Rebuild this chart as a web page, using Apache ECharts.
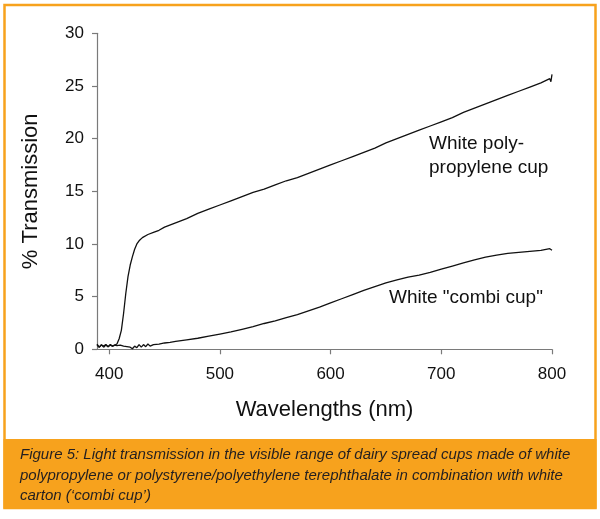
<!DOCTYPE html>
<html><head><meta charset="utf-8">
<script src="https://cdn.jsdelivr.net/npm/echarts@6/dist/echarts.min.js"></script>
<style>html,body{margin:0;padding:0;background:#fff}#c{width:600px;height:519px}</style>
</head><body><div id="c"></div>
<script>
// White polypropylene cup: [wavelength nm, % transmission]
const ppCup = [
[389,0.4],[391,0.2],[393,0.4],[395,0.3],[397,0.45],[399,0.25],[401,0.4],[403,0.3],[405,0.4],[407,0.5],
[409,1.0],[411,1.8],[413,3.4],[415,5.3],[417,6.9],[419,8.0],[421,8.8],[423,9.5],[425,10.0],[427,10.3],
[430,10.6],[435,10.9],[440,11.1],[445,11.3],[450,11.6],[460,12.0],[470,12.4],[480,12.9],[490,13.3],[500,13.7],
[510,14.1],[520,14.5],[530,14.9],[540,15.2],[550,15.6],[560,16.0],[570,16.3],[580,16.7],[590,17.1],[600,17.5],
[610,17.9],[620,18.3],[630,18.7],[640,19.1],[650,19.6],[660,20.0],[670,20.4],[680,20.8],[690,21.2],[700,21.6],
[710,22.0],[720,22.5],[730,22.9],[740,23.3],[750,23.7],[760,24.1],[770,24.5],[780,24.9],[790,25.3],[798,25.7],
[799,25.4],[800,26.1]
];
// White "combi cup"
const combiCup = [
[389,0.5],[391,0.2],[393,0.45],[395,0.2],[397,0.4],[399,0.25],[401,0.45],[403,0.3],[405,0.4],[407,0.35],
[410,0.4],[413,0.3],[416,0.25],[419,0.2],[421,0.05],[423,0.3],[425,0.15],[427,0.45],[429,0.2],[431,0.45],
[433,0.25],[435,0.5],[437,0.3],[440,0.45],[445,0.5],[450,0.6],[455,0.65],[460,0.75],[470,0.9],[480,1.05],
[490,1.25],[500,1.45],[510,1.65],[520,1.9],[530,2.15],[540,2.45],[550,2.7],[560,3.0],[570,3.3],[580,3.65],
[590,4.0],[600,4.4],[610,4.8],[620,5.2],[630,5.6],[640,5.95],[650,6.3],[660,6.6],[670,6.85],[680,7.05],
[690,7.3],[700,7.6],[710,7.9],[720,8.2],[730,8.5],[740,8.75],[750,8.95],[760,9.1],[770,9.2],[780,9.3],
[790,9.4],[798,9.55],[800,9.4]
];
const xTicks = [400,500,600,700,800];
const xRange = [389,800];
const yRange = [0,30];
const yStep = 5;
const xTitle = 'Wavelengths (nm)';
const yTitle = '% Transmission';
const label1 = ['White poly-','propylene cup'];
const label2 = 'White "combi cup"';
const caption = ['Figure 5: Light transmission in the visible range of dairy spread cups made of white',
 'polypropylene or polystyrene/polyethylene terephthalate in combination with white',
 'carton (\u2018combi cup\u2019)'];

const FONT = '"Liberation Sans", Arial, sans-serif';
const ORANGE = '#F7A21D';
const AX = '#7a7a7a';
const chart = echarts.init(document.getElementById('c'), null, {renderer:'canvas'});
chart.setOption({
  animation:false,
  backgroundColor:'#fff',
  grid:{left:97, right:48, top:33.3, bottom:169.7, containLabel:false},
  xAxis:{type:'value', min:xRange[0], max:xRange[1],
    name:xTitle, nameLocation:'middle', nameGap:50,
    nameTextStyle:{fontFamily:FONT, fontSize:22, color:'#111'},
    axisLine:{lineStyle:{color:AX, width:1.2}},
    axisTick:{show:true, length:5, lineStyle:{color:AX, width:1.2}, customValues:xTicks},
    axisLabel:{fontFamily:FONT, fontSize:17, color:'#111', margin:17, customValues:xTicks},
    splitLine:{show:false}},
  yAxis:{type:'value', min:yRange[0], max:yRange[1], interval:yStep,
    name:yTitle, nameLocation:'middle', nameGap:55, nameRotate:90,
    nameTextStyle:{fontFamily:FONT, fontSize:22, color:'#111'},
    axisLine:{show:true, lineStyle:{color:AX, width:1.2}},
    axisTick:{show:true, length:5, lineStyle:{color:AX, width:1.2}},
    axisLabel:{fontFamily:FONT, fontSize:17, color:'#111', margin:13},
    splitLine:{show:false}},
  series:[
    {type:'line', data:ppCup, showSymbol:false, lineStyle:{color:'#111', width:1.3}, z:3},
    {type:'line', data:combiCup, showSymbol:false, lineStyle:{color:'#111', width:1.3}, z:3}
  ],
  graphic:[
    {type:'rect', shape:{x:4.5, y:5, width:591, height:503}, style:{fill:'none', stroke:ORANGE, lineWidth:2.5}, z:1},
    {type:'rect', shape:{x:3.5, y:439, width:593, height:69.5}, style:{fill:ORANGE}, z:1},
    {type:'text', left:20, top:445, style:{text:caption.join('\n'), font:'italic 15px '+FONT, fill:'#231f20', lineHeight:20.5}, z:2},
    {type:'text', left:429, top:132, style:{text:label1.join('\n'), font:'19px '+FONT, fill:'#111', lineHeight:24}, z:2},
    {type:'text', left:389, top:288, style:{text:label2, font:'19px '+FONT, fill:'#111'}, z:2}
  ]
});
</script></body></html>
